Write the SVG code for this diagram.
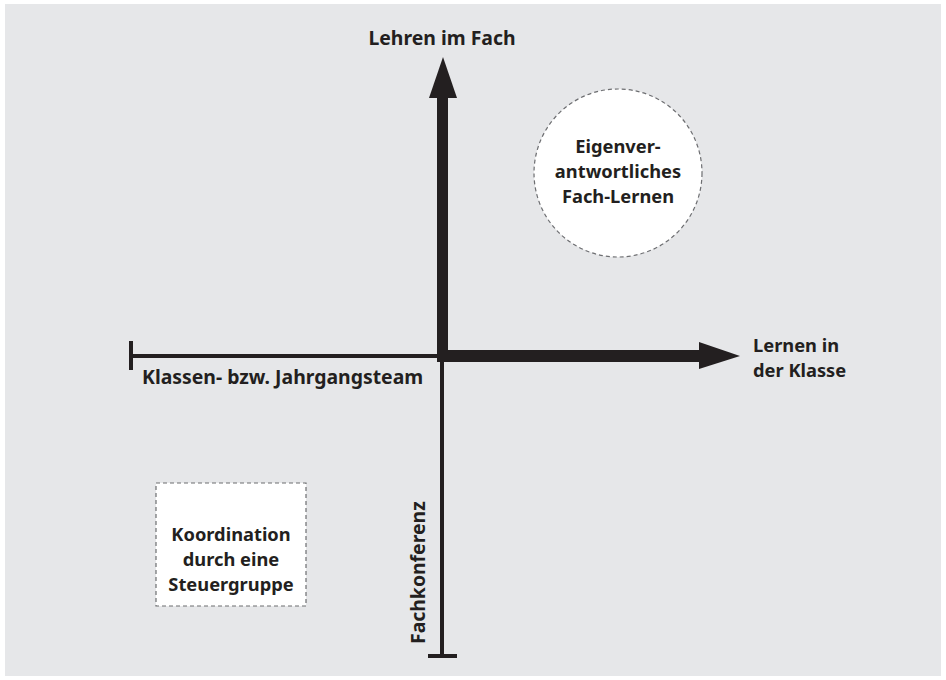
<svg xmlns="http://www.w3.org/2000/svg" width="946" height="680" viewBox="0 0 946 680">
<style>
text{font-family:"Noto Sans","Open Sans","Liberation Sans",sans-serif;font-weight:bold;fill:#231f20;font-size:19.4px}
.c{text-anchor:middle}
.m{font-size:18.3px}
.dash{fill:#ffffff;stroke:#6d6e71;stroke-width:1.2;stroke-dasharray:4 3}
</style>
<rect x="0" y="0" width="946" height="680" fill="#ffffff"/>
<rect x="5" y="4" width="936" height="672" fill="#e6e7e9"/>
<g id="connectors">
<line x1="131" y1="356" x2="443" y2="356" stroke="#231f20" stroke-width="4"/>
<line x1="131" y1="341" x2="131" y2="370" stroke="#231f20" stroke-width="4"/>
<line x1="442" y1="356" x2="442" y2="656" stroke="#231f20" stroke-width="4"/>
<line x1="428" y1="656" x2="457" y2="656" stroke="#231f20" stroke-width="4"/>
<rect x="437" y="96" width="11" height="266" fill="#231f20"/>
<polygon points="443,57 457,98 429,98" fill="#231f20"/>
<rect x="437" y="350" width="265" height="12" fill="#231f20"/>
<polygon points="740,356 699,342 699,369" fill="#231f20"/>
</g>
<g id="axis-top"><text class="c" x="442" y="45">Lehren im Fach</text></g>
<g id="axis-right"><text class="m" x="753" y="352">Lernen in</text><text class="m" x="753" y="377">der Klasse</text></g>
<g id="axis-left"><text x="142" y="384">Klassen- bzw. Jahrgangsteam</text></g>
<g id="axis-bottom"><text transform="translate(425,644) rotate(-90)">Fachkonferenz</text></g>
<g id="circle-node">
<circle class="dash" cx="618" cy="173" r="84"/>
<text class="c m" x="618" y="153">Eigenver-</text>
<text class="c m" x="618" y="178">antwortliches</text>
<text class="c m" x="618" y="203">Fach-Lernen</text>
</g>
<g id="box-node">
<rect class="dash" x="156" y="483" width="150" height="123"/>
<text class="c m" x="231" y="541">Koordination</text>
<text class="c m" x="231" y="566">durch eine</text>
<text class="c m" x="231" y="591">Steuergruppe</text>
</g>
</svg>
